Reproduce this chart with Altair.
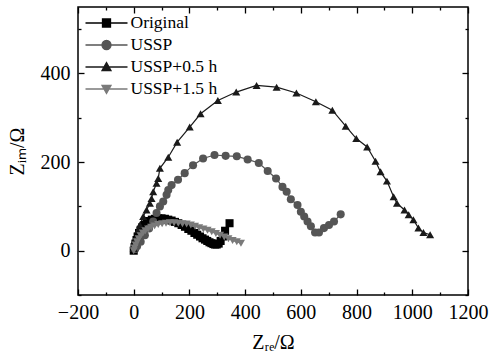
import altair as alt
import pandas as pd

series_names = ["Original", "USSP", "USSP+0.5 h", "USSP+1.5 h"]
series_colors = ["#000000", "#555555", "#1a1a1a", "#7a7a7a"]
series_shapes = ["square", "circle", "triangle-up", "triangle-down"]

# legend symbols: a short line with the marker in its middle (unit = sqrt(size)/2)
legend_paths = [
    "M-2.1,0H2.1M-0.4,-0.4H0.4V0.4H-0.4Z",
    "M-2.1,0H2.1M0.45,0A0.45,0.45,0,1,1,-0.45,0A0.45,0.45,0,1,1,0.45,0Z",
    "M-2.1,0H2.1M0,-0.45L0.45,0.35H-0.45Z",
    "M-2.1,0H2.1M0,0.45L0.45,-0.35H-0.45Z",
]

orig_x = [0, 3, 6, 10, 14, 19, 25, 31, 38, 46, 55, 65, 76, 88, 100, 112, 124, 136, 148, 160,
          172, 184, 196, 207, 218, 228, 238, 247, 256, 264, 272, 279, 286, 292, 298, 305,
          312, 320, 328, 344]
orig_y = [0, 8, 16, 24, 32, 40, 47, 53, 58, 63, 67, 70, 72, 73, 73, 72, 70, 68, 65, 62,
          58, 54, 49, 45, 40, 36, 32, 28, 25, 22, 19, 17, 15, 14, 14, 16,
          22, 32, 45, 62]

ussp_x = [5, 12, 25, 40, 55, 70, 82, 94, 106, 118, 124, 136, 159, 183, 213, 249, 290, 330,
          370, 409, 449, 481, 511, 534, 549, 564, 588, 600, 612, 624, 636, 651, 665, 683,
          701, 719, 743]
ussp_y = [4, 10, 20, 35, 50, 66, 85, 100, 111, 126, 137, 148, 160, 175, 193, 208, 216, 214,
          213, 206, 198, 180, 163, 144, 133, 116, 103, 88, 77, 66, 55, 41, 41, 51,
          58, 66, 82]

h05_x = [0, 5, 16, 22, 34, 46, 58, 64, 70, 82, 88, 94, 124, 156, 201, 240, 302, 368, 441,
         513, 584, 654, 713, 761, 799, 838, 868, 886, 909, 933, 945, 972, 987, 1004, 1022,
         1040, 1064]
h05_y = [5, 25, 47, 58, 77, 92, 107, 118, 133, 152, 163, 186, 211, 245, 279, 309, 339, 358,
         373, 369, 356, 336, 317, 281, 253, 234, 202, 178, 157, 122, 107, 92, 81, 70, 51,
         41, 36]

h15_x = [0, 3, 7, 12, 18, 25, 33, 42, 52, 63, 75, 88, 102, 116, 130, 145, 160, 175, 190,
         205, 220, 235, 250, 265, 280, 295, 310, 325, 340, 355, 370, 385]
h15_y = [0, 6, 13, 20, 27, 34, 40, 45, 49, 53, 56, 59, 61, 62, 63, 63, 62, 61, 60,
         58, 55, 52, 49, 46, 43, 39, 35, 31, 27, 23, 20, 17]

x_major = [-200, 0, 200, 400, 600, 800, 1000, 1200]
x_minor = [-100, 100, 300, 500, 700, 900, 1100]
y_major = [0, 200, 400]
y_minor = [-100, 100, 300, 500]

rows = []
for name, xs, ys in zip(series_names, [orig_x, ussp_x, h05_x, h15_x],
                        [orig_y, ussp_y, h05_y, h15_y]):
    for i, (xv, yv) in enumerate(zip(xs, ys)):
        rows.append({"series": name, "i": i, "x": xv, "y": yv})
df = pd.DataFrame(rows)

FONT = "Liberation Serif"
MAJ = 6
MIN = 3


def x_scale():
    return alt.Scale(domain=[-200, 1200], nice=False, zero=False)


def y_scale():
    return alt.Scale(domain=[-100, 550], nice=False, zero=False)


def tick_axis(orient, values, size):
    # ticks drawn inward: the axis is pulled inside the frame by its tick length
    return alt.Axis(orient=orient, values=values, labels=False, grid=False, domain=False,
                    title=None, tickSize=size, offset=-size, tickColor="black",
                    tickWidth=1.3, zindex=2)


bottom_axis = alt.Axis(
    orient="bottom", values=x_major, format="d", grid=False, domain=False,
    tickSize=MAJ, offset=-MAJ, labelPadding=7, tickColor="black", tickWidth=1.3, zindex=2,
    labelFont=FONT, labelFontSize=20, labelColor="black", labelFlush=False,
    title="Zᵣₑ/Ω", titleFont=FONT, titleFontSize=20, titleFontWeight="normal",
    titleColor="black", titlePadding=10,
)
left_axis = alt.Axis(
    orient="left", values=y_major, format="d", grid=False, domain=False,
    tickSize=MAJ, offset=-MAJ, labelPadding=8, tickColor="black", tickWidth=1.3, zindex=2,
    labelFont=FONT, labelFontSize=20, labelColor="black", labelFlush=False,
    title="Zᵢₘ/Ω", titleFont=FONT, titleFontSize=20, titleFontWeight="normal",
    titleColor="black", titlePadding=13,
)

color_main = alt.Color("series:N", scale=alt.Scale(domain=series_names, range=series_colors),
                       legend=None)

lines = alt.Chart(df).mark_line(strokeWidth=1.2).encode(
    x=alt.X("x:Q", scale=x_scale(), axis=bottom_axis),
    y=alt.Y("y:Q", scale=y_scale(), axis=left_axis),
    color=color_main,
    detail="series:N",
    order="i:Q",
)
points = alt.Chart(df).mark_point(filled=True, size=65, opacity=1).encode(
    x=alt.X("x:Q", scale=x_scale(), axis=tick_axis("bottom", x_minor, MIN)),
    y=alt.Y("y:Q", scale=y_scale(), axis=tick_axis("left", y_minor, MIN)),
    color=color_main,
    shape=alt.Shape("series:N", scale=alt.Scale(domain=series_names, range=series_shapes),
                    legend=None),
)


def make_legend():
    return alt.Legend(
        title=None, orient="none", legendX=17.5, legendY=5, padding=0,
        symbolSize=400, symbolStrokeWidth=1.3, symbolOffset=0,
        labelFont=FONT, labelFontSize=17.5, labelColor="black", labelOffset=13,
        rowPadding=2, labelLimit=300,
    )


legend_layer = alt.Chart(df).transform_filter("false").mark_point(filled=True, opacity=1).encode(
    x=alt.X("x:Q", scale=x_scale(), axis=tick_axis("top", x_major, MAJ)),
    y=alt.Y("y:Q", scale=y_scale(), axis=tick_axis("right", y_major, MAJ)),
    color=alt.Color("series:N", scale=alt.Scale(domain=series_names, range=series_colors),
                    legend=make_legend()),
    stroke=alt.Stroke("series:N", scale=alt.Scale(domain=series_names, range=series_colors),
                      legend=make_legend()),
    shape=alt.Shape("series:N", scale=alt.Scale(domain=series_names, range=legend_paths),
                    legend=make_legend()),
)

minor_layer = alt.Chart(df).transform_filter("false").mark_point().encode(
    x=alt.X("x:Q", scale=x_scale(), axis=tick_axis("top", x_minor, MIN)),
    y=alt.Y("y:Q", scale=y_scale(), axis=tick_axis("right", y_minor, MIN)),
)

chart = (
    alt.layer(lines, points, legend_layer, minor_layer)
    .resolve_scale(x="independent", y="independent", color="independent",
                   shape="independent", stroke="independent")
    .resolve_axis(x="independent", y="independent")
    .properties(
        width=390, height=288,
        padding={"left": 78, "top": 7, "right": 26, "bottom": 68},
        autosize=alt.AutoSizeParams(type="none"),
        background="white",
    )
    .configure_view(stroke="black", strokeWidth=1.5)
)

chart.save("out.html", embed_options={"renderer": "svg", "actions": False})
